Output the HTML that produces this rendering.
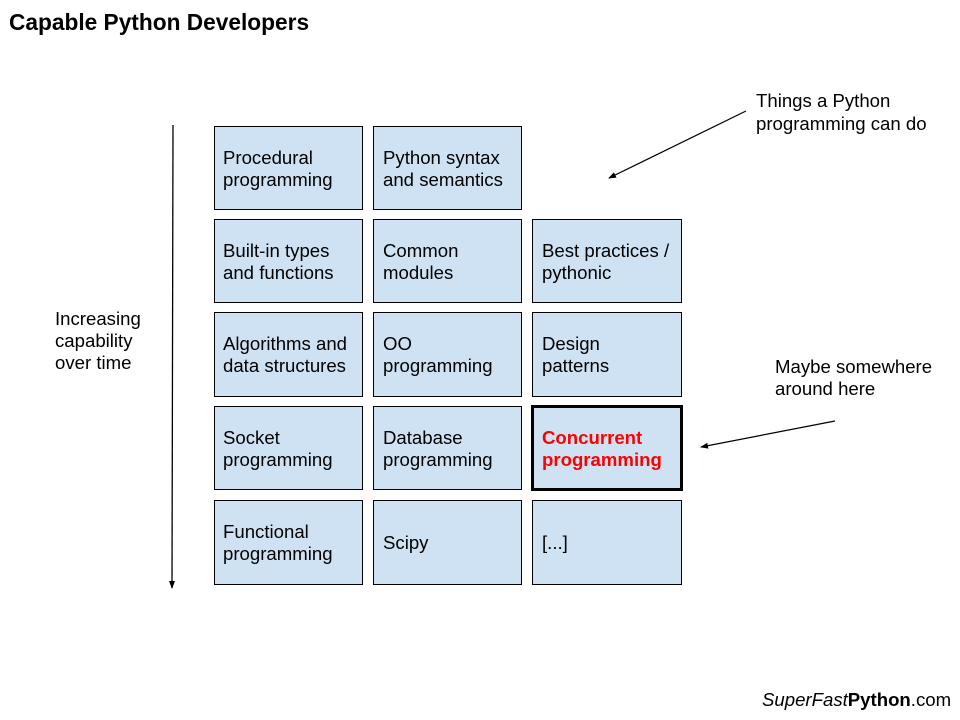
<!DOCTYPE html>
<html><head><meta charset="utf-8"><style>
html,body{margin:0;padding:0;background:#fff}
svg{display:block}
text{font-family:"Liberation Sans",Arial,sans-serif;font-size:18.6px;fill:#000}
</style></head><body>
<svg width="960" height="720" viewBox="0 0 960 720" xmlns="http://www.w3.org/2000/svg">
<defs><marker id="ah" markerWidth="8" markerHeight="8" refX="7" refY="4" orient="auto" markerUnits="userSpaceOnUse"><path d="M0,1 L8,4 L0,7 z" fill="#000"/></marker></defs>
<text x="9" y="30" style="font-size:22.7px;font-weight:bold">Capable Python Developers</text>
<g fill="#cfe2f3" stroke="#000" stroke-width="1">
<rect x="214.5" y="126.5" width="148" height="83"/>
<rect x="373.5" y="126.5" width="148" height="83"/>
<rect x="214.5" y="219.5" width="148" height="83"/>
<rect x="373.5" y="219.5" width="148" height="83"/>
<rect x="532.5" y="219.5" width="149" height="83"/>
<rect x="214.5" y="312.5" width="148" height="84"/>
<rect x="373.5" y="312.5" width="148" height="84"/>
<rect x="532.5" y="312.5" width="149" height="84"/>
<rect x="214.5" y="406.5" width="148" height="83"/>
<rect x="373.5" y="406.5" width="148" height="83"/>
<rect x="214.5" y="500.5" width="148" height="84"/>
<rect x="373.5" y="500.5" width="148" height="84"/>
<rect x="532.5" y="500.5" width="149" height="84"/>
</g>
<rect x="532.5" y="406.5" width="149" height="83" fill="#cfe2f3" stroke="#000" stroke-width="3"/>
<text x="223" y="164">Procedural</text><text x="223" y="186">programming</text>
<text x="383" y="164">Python syntax</text><text x="383" y="186">and semantics</text>
<text x="223" y="257">Built-in types</text><text x="223" y="279">and functions</text>
<text x="383" y="257">Common</text><text x="383" y="279">modules</text>
<text x="542" y="257">Best practices /</text><text x="542" y="279">pythonic</text>
<text x="223" y="350">Algorithms and</text><text x="223" y="372">data structures</text>
<text x="383" y="350">OO</text><text x="383" y="372">programming</text>
<text x="542" y="350">Design</text><text x="542" y="372">patterns</text>
<text x="223" y="444">Socket</text><text x="223" y="466">programming</text>
<text x="383" y="444">Database</text><text x="383" y="466">programming</text>
<text x="542" y="444" style="fill:#ff0000;font-weight:bold">Concurrent</text><text x="542" y="466" style="fill:#ff0000;font-weight:bold">programming</text>
<text x="223" y="538">Functional</text><text x="223" y="560">programming</text>
<text x="383" y="549">Scipy</text>
<text x="542" y="549">[...]</text>
<text x="55" y="325">Increasing</text><text x="55" y="347">capability</text><text x="55" y="369">over time</text>
<line x1="173" y1="125" x2="172" y2="588" stroke="#000" stroke-width="1.3" marker-end="url(#ah)"/>
<text x="756" y="107">Things a Python</text><text x="756" y="130">programming can do</text>
<line x1="746" y1="111" x2="609" y2="178" stroke="#000" stroke-width="1.2" marker-end="url(#ah)"/>
<text x="775" y="373">Maybe somewhere</text><text x="775" y="395">around here</text>
<line x1="835" y1="421" x2="701" y2="447" stroke="#000" stroke-width="1.2" marker-end="url(#ah)"/>
<text x="762" y="706" style="font-size:18.6px"><tspan font-style="italic">SuperFast</tspan><tspan font-weight="bold">Python</tspan>.com</text>
</svg>
</body></html>
